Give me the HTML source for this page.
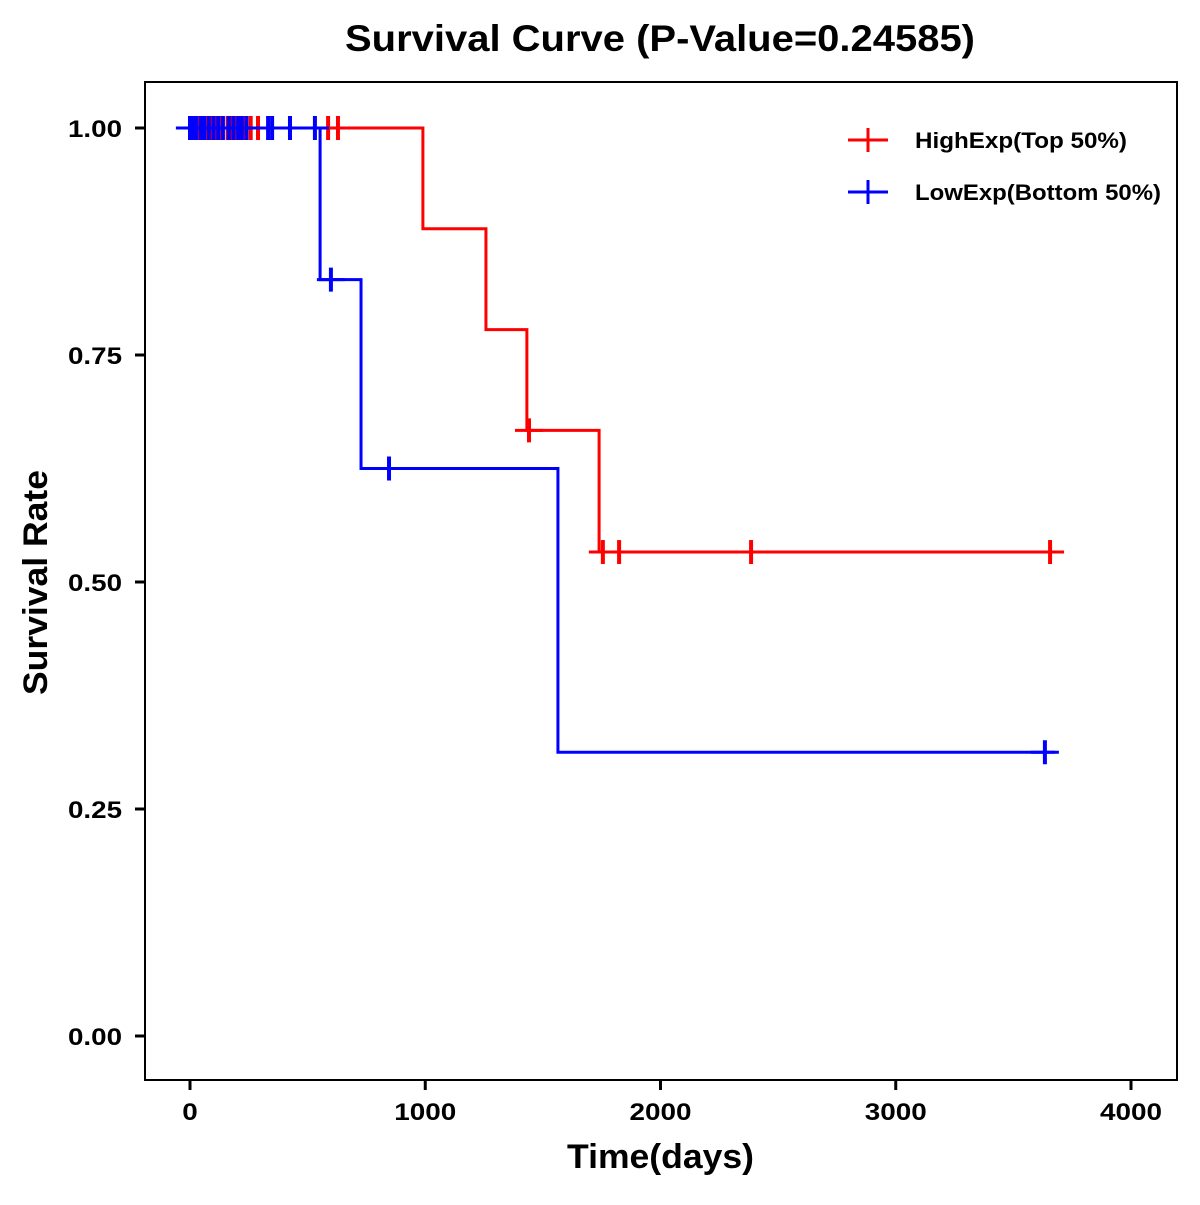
<!DOCTYPE html>
<html><head><meta charset="utf-8"><style>
body{margin:0;background:#fff}
svg text{font-family:"Liberation Sans",Arial,sans-serif;font-weight:bold}
</style></head><body>
<svg id="chart" width="1200" height="1200" viewBox="0 0 1200 1200">
<rect width="1200" height="1200" fill="#fff"/>
<text x="345" y="51" font-size="37" textLength="630" lengthAdjust="spacingAndGlyphs">Survival Curve (P-Value=0.24585)</text>
<rect x="145" y="82" width="1032" height="998" fill="none" stroke="#000" stroke-width="2"/>
<g id="axes"></g>
<g id="series"></g>
<text x="567" y="1168" font-size="34" textLength="187" lengthAdjust="spacingAndGlyphs">Time(days)</text>
<text transform="translate(47,695) rotate(-90)" font-size="34" textLength="225" lengthAdjust="spacingAndGlyphs">Survival Rate</text>
<g>
<line x1="848" y1="140" x2="888" y2="140" stroke="#f00" stroke-width="3"/>
<line x1="868" y1="128" x2="868" y2="152" stroke="#f00" stroke-width="3"/>
<text x="915" y="148" font-size="22" textLength="212" lengthAdjust="spacingAndGlyphs">HighExp(Top 50%)</text>
<line x1="848" y1="192" x2="888" y2="192" stroke="#00f" stroke-width="3"/>
<line x1="868" y1="180" x2="868" y2="204" stroke="#00f" stroke-width="3"/>
<text x="915" y="200" font-size="22" textLength="246" lengthAdjust="spacingAndGlyphs">LowExp(Bottom 50%)</text>
</g>
</svg>
<script>
const xTicks=[0,1000,2000,3000,4000];
const yTicks=[0,0.25,0.5,0.75,1];
const yTickLabels=["0.00","0.25","0.50","0.75","1.00"];
const highTimes=[0,990,1258,1432,1739,3707];
const highSurv=[1,0.889,0.778,0.667,0.533,0.533];
const highCensorT=[5,20,40,55,70,90,110,130,160,180,200,215,230,258,289,425,587,629,1441,1755,1824,2385,3656];
const highCensorS=[1,1,1,1,1,1,1,1,1,1,1,1,1,1,1,1,1,1,0.667,0.533,0.533,0.533,0.533];
const lowTimes=[-60,553,727,1564,3677];
const lowSurv=[1,0.833,0.625,0.3125,0.3125];
const lowCensorT=[0,10,25,45,60,80,100,120,140,165,185,205,220,240,332,349,425,531,599,846,3634];
const lowCensorS=[1,1,1,1,1,1,1,1,1,1,1,1,1,1,1,1,1,1,0.833,0.625,0.3125];
const X=t=>190+t*0.23525, Y=s=>1036-s*908;
const NS="http://www.w3.org/2000/svg";
function mk(tag,attrs,parent){const e=document.createElementNS(NS,tag);for(const k in attrs)e.setAttribute(k,attrs[k]);parent.appendChild(e);return e;}
const axes=document.getElementById('axes'),ser=document.getElementById('series');
xTicks.forEach(t=>{
  const l=mk('line',{x1:X(t),x2:X(t),y1:1080,y2:1090,stroke:'#000','stroke-width':3},axes);
  
  
  const s=String(t);
  const tx=mk('text',{x:X(t),y:1120,'font-size':24,'text-anchor':'middle',textLength:15.5*s.length,lengthAdjust:'spacingAndGlyphs'},axes);tx.textContent=s;
  
  
});
yTicks.forEach((s,i)=>{
  const l=mk('line',{x1:135,x2:145,y1:Y(s),y2:Y(s),stroke:'#000','stroke-width':3},axes);
  
  
  const tx=mk('text',{x:122,y:Y(s)+9,'font-size':24,'text-anchor':'end',textLength:54,lengthAdjust:'spacingAndGlyphs'},axes);tx.textContent=yTickLabels[i];
  
  
});
function series(times,surv,ct,cs,col,name){
  let d='M'+X(times[0])+','+Y(surv[0]);
  for(let i=1;i<times.length;i++){d+=' H'+X(times[i])+' V'+Y(surv[i]);}
  const p=mk('path',{d:d,fill:'none',stroke:col,'stroke-width':3},ser);
  
  
  ct.forEach((t,i)=>{
    const g=mk('g',{},ser);
    
    
    mk('line',{x1:X(t)-14,x2:X(t)+14,y1:Y(cs[i]),y2:Y(cs[i]),stroke:col,'stroke-width':3},g);
    mk('line',{x1:X(t),x2:X(t),y1:Y(cs[i])-12,y2:Y(cs[i])+12,stroke:col,'stroke-width':4},g);
  });
}
series(highTimes,highSurv,highCensorT,highCensorS,'#f00','high-exp');
series(lowTimes,lowSurv,lowCensorT,lowCensorS,'#00f','low-exp');
</script>
</body></html>
